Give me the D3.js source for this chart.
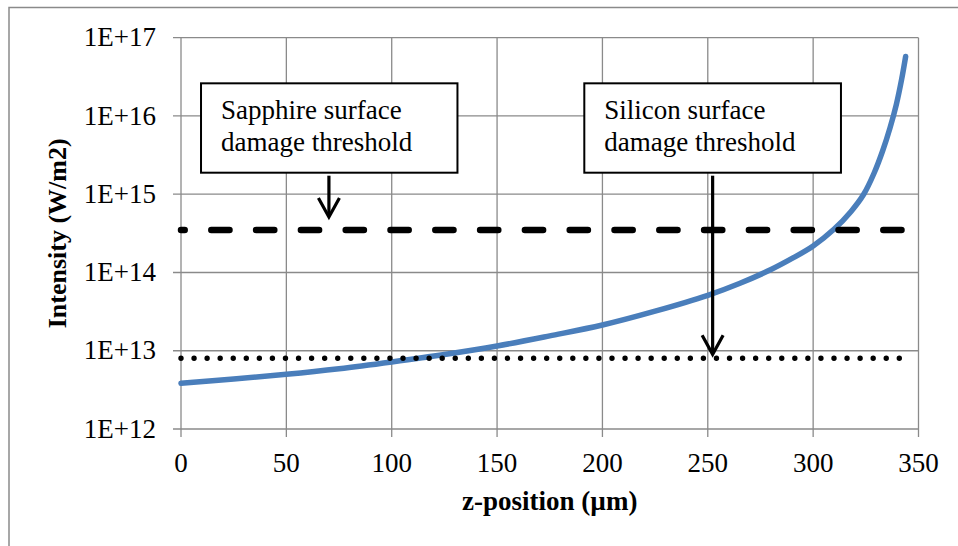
<!DOCTYPE html>
<html>
<head>
<meta charset="utf-8">
<script src="https://cdn.jsdelivr.net/npm/d3@7"></script>
<style>
  body { margin: 0; background: #fff; }
  svg { display: block; }
  text { font-family: "Liberation Serif", "Times New Roman", serif; fill: #000; }
</style>
</head>
<body>
<script>
// beam intensity along z
const zPos = [0, 25, 50, 75, 100, 125, 150, 175, 200, 225, 250, 265, 280, 290, 300, 310, 318, 324, 329, 333, 336.5, 339.5, 342, 343.9];
const intensity = [3.85e12, 4.35e12, 5.0e12, 5.9e12, 7.2e12, 8.95e12, 1.15e13, 1.55e13, 2.13e13, 3.2e13, 5.1e13, 7.23e13, 1.09e14, 1.51e14, 2.18e14, 3.59e14, 6.03e14, 9.98e14, 1.88e15, 3.59e15, 7.08e15, 1.41e16, 2.94e16, 5.75e16];

const thresholdZ = [0, 343];
const sapphireThreshold = 3.5e14;
const siliconThreshold = 8e12;

const xTicks = [0, 50, 100, 150, 200, 250, 300, 350];
const yTicks = [1e12, 1e13, 1e14, 1e15, 1e16, 1e17];
const yTickLabels = ["1E+12", "1E+13", "1E+14", "1E+15", "1E+16", "1E+17"];

const width = 958, height = 546;
const plotLeft = 181, plotRight = 918.5, plotTop = 37.7, plotBottom = 429;
const grid = "#8a8a8a";

const x = d3.scaleLinear().domain([0, 350]).range([plotLeft, plotRight]);
const y = d3.scaleLog().domain([1e12, 1e17]).range([plotBottom, plotTop]);

const svg = d3.select("body").append("svg")
    .attr("width", width)
    .attr("height", height);

// chart frame (runs off the page on the right and bottom)
svg.append("rect")
    .attr("x", 9).attr("y", 7.5)
    .attr("width", 980).attr("height", 560)
    .attr("fill", "none")
    .attr("stroke", grid)
    .attr("stroke-width", 1.5);

// grid
svg.append("g").selectAll("line").data(xTicks).join("line")
    .attr("x1", d => x(d)).attr("x2", d => x(d))
    .attr("y1", plotTop).attr("y2", plotBottom + 8)
    .attr("stroke", grid).attr("stroke-width", 1.3);

svg.append("g").selectAll("line").data(yTicks).join("line")
    .attr("x1", plotLeft - 8).attr("x2", plotRight)
    .attr("y1", d => y(d)).attr("y2", d => y(d))
    .attr("stroke", grid).attr("stroke-width", 1.3);

// tick labels
svg.append("g").selectAll("text").data(xTicks).join("text")
    .attr("x", d => x(d)).attr("y", 472)
    .attr("text-anchor", "middle")
    .attr("font-size", 27)
    .text(d => d);

svg.append("g").selectAll("text").data(yTicks).join("text")
    .attr("x", 156).attr("y", d => y(d) + 8.7)
    .attr("text-anchor", "end")
    .attr("font-size", 27)
    .text((d, i) => yTickLabels[i]);

// axis titles
svg.append("text")
    .attr("x", (plotLeft + plotRight) / 2).attr("y", 510)
    .attr("text-anchor", "middle")
    .attr("font-size", 27).attr("font-weight", "bold")
    .text("z-position (µm)");

svg.append("text")
    .attr("transform", `translate(66,${(plotTop + plotBottom) / 2}) rotate(-90)`)
    .attr("text-anchor", "middle")
    .attr("font-size", 26).attr("font-weight", "bold")
    .text("Intensity (W/m2)");

// intensity curve
const line = d3.line()
    .x((d, i) => x(zPos[i]))
    .y(d => y(d))
    .curve(d3.curveCatmullRom.alpha(0.5));

svg.append("path")
    .attr("d", line(intensity))
    .attr("fill", "none")
    .attr("stroke", "#4a7ebb")
    .attr("stroke-width", 5.5)
    .attr("stroke-linecap", "round")
    .attr("stroke-linejoin", "round");

// thresholds
svg.append("line")
    .attr("x1", x(thresholdZ[0])).attr("x2", x(thresholdZ[1]))
    .attr("y1", y(sapphireThreshold)).attr("y2", y(sapphireThreshold))
    .attr("stroke", "#000").attr("stroke-width", 6.5)
    .attr("stroke-linecap", "round")
    .attr("stroke-dasharray", "18.2,26.6")
    .attr("stroke-dashoffset", 14.5);

svg.append("line")
    .attr("x1", x(thresholdZ[0])).attr("x2", x(thresholdZ[1]))
    .attr("y1", y(siliconThreshold)).attr("y2", y(siliconThreshold))
    .attr("stroke", "#000").attr("stroke-width", 5.4)
    .attr("stroke-linecap", "round")
    .attr("stroke-dasharray", "0,13.06");

// callouts
function callout(z0, z1, iTop, iBottom, lines, arrowZ, tipY) {
    const bx = x(z0), bw = x(z1) - x(z0);
    const by = y(iTop), bh = y(iBottom) - y(iTop);
    svg.append("rect")
        .attr("x", bx).attr("y", by).attr("width", bw).attr("height", bh)
        .attr("fill", "#fff").attr("stroke", "#000").attr("stroke-width", 2);
    lines.forEach((t, i) => {
        svg.append("text")
            .attr("x", bx + 20).attr("y", by + 35.3 + i * 32.5)
            .attr("font-size", 27)
            .text(t);
    });
    const ax = x(arrowZ);
    svg.append("line")
        .attr("x1", ax).attr("x2", ax)
        .attr("y1", by + bh + 3).attr("y2", tipY - 1)
        .attr("stroke", "#000").attr("stroke-width", 3.2);
    svg.append("path")
        .attr("d", `M${ax - 10.5},${tipY - 19} L${ax},${tipY} L${ax + 10.5},${tipY - 19}`)
        .attr("fill", "none").attr("stroke", "#000").attr("stroke-width", 3.2);
}

callout(9.5, 131.2, 10 ** 16.417, 10 ** 15.275, ["Sapphire surface", "damage threshold"], 70.2, y(sapphireThreshold) - 13);
callout(191.4, 313.2, 10 ** 16.417, 10 ** 15.275, ["Silicon surface", "damage threshold"], 252.3, y(siliconThreshold) - 4);
</script>
</body>
</html>
